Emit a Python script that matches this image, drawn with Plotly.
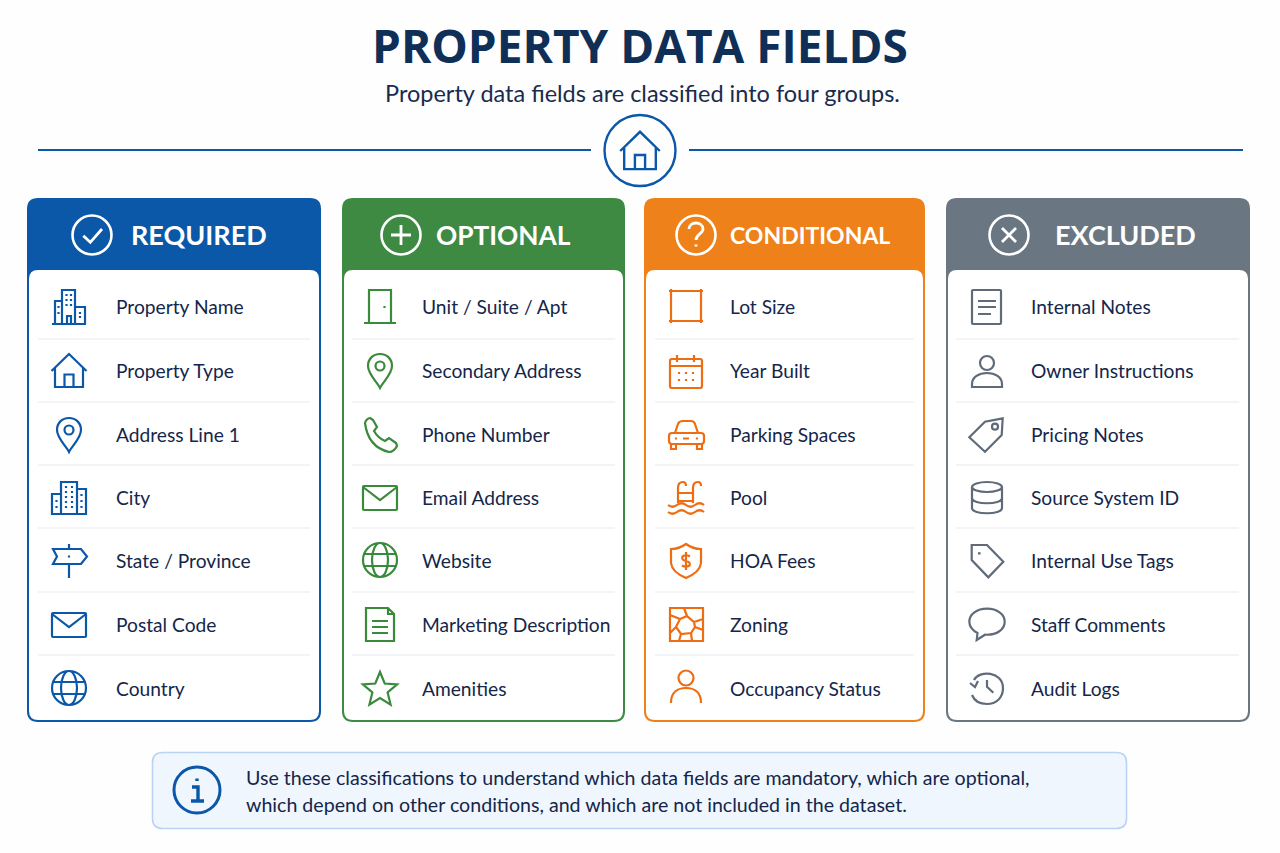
import math
import re
import plotly.graph_objects as go

# ---------- content ----------
TITLE = "PROPERTY DATA FIELDS"
SUBTITLE = "Property data fields are classified into four groups."
GROUPS = ["REQUIRED", "OPTIONAL", "CONDITIONAL", "EXCLUDED"]
REQUIRED = ["Property Name", "Property Type", "Address Line 1", "City", "State / Province", "Postal Code", "Country"]
OPTIONAL = ["Unit / Suite / Apt", "Secondary Address", "Phone Number", "Email Address", "Website", "Marketing Description", "Amenities"]
CONDITIONAL = ["Lot Size", "Year Built", "Parking Spaces", "Pool", "HOA Fees", "Zoning", "Occupancy Status"]
EXCLUDED = ["Internal Notes", "Owner Instructions", "Pricing Notes", "Source System ID", "Internal Use Tags", "Staff Comments", "Audit Logs"]
FIELDS = [REQUIRED, OPTIONAL, CONDITIONAL, EXCLUDED]
NOTE_LINES = ["Use these classifications to understand which data fields are mandatory, which are optional,",
              "which depend on other conditions, and which are not included in the dataset."]

REQUIRED_ICONS = ["buildings", "house", "pin", "city", "sign", "mail", "globe"]
OPTIONAL_ICONS = ["door", "pin", "phone", "mail", "globe", "doc", "star"]
CONDITIONAL_ICONS = ["lot", "calendar", "car", "pool", "shield", "zoning", "person"]
EXCLUDED_ICONS = ["notes", "owner", "pricetag", "database", "tag", "bubble", "history"]
ICONS = [REQUIRED_ICONS, OPTIONAL_ICONS, CONDITIONAL_ICONS, EXCLUDED_ICONS]
HEAD_ICONS = ["check", "plus", "question", "cross"]

# ---------- layout and styles ----------
W, H = 1280, 853
BG = "#FEFEFE"
BLUE = "#0B57A8"
HEAD_COLORS = [BLUE, "#3F8A42", "#EE8119", "#6B7683"]
ICON_COLORS = [BLUE, "#3A8A3C", "#EE6C12", "#5F6B78"]
PANEL_X0 = [27, 342, 644, 946]
PANEL_X1 = [321, 625, 925, 1250]
SEP_X0 = [38, 352, 655, 956]
SEP_X1 = [310, 615, 914, 1239]
ICON_X = [69, 380, 686, 987]
TEXT_X = [113.7, 419.7, 727.7, 1028.7]
HEAD_ICON_X = [92, 401, 696, 1009]
HEAD_TEXT_X = [199, 503, 810, 1125]
HEAD_SIZES = [27, 26.3, 23, 27]
ROW_Y = [306, 370, 434, 497, 560, 624, 688]
ICON_Y = [307, 371, 435, 498, 561, 625, 689]
SEP_Y = [339, 402, 465, 528, 592, 655]
PANEL_TOP, BODY_TOP, PANEL_BOTTOM = 198, 270, 722
FONT = "Lato"
TITLE_FONT = "Open Sans"
INK = "#14264A"


def ell(cx, cy, rx, ry=None):
    ry = rx if ry is None else ry
    k = 0.5523
    return (f"M{cx-rx},{cy} C{cx-rx},{cy-k*ry} {cx-k*rx},{cy-ry} {cx},{cy-ry} "
            f"C{cx+k*rx},{cy-ry} {cx+rx},{cy-k*ry} {cx+rx},{cy} "
            f"C{cx+rx},{cy+k*ry} {cx+k*rx},{cy+ry} {cx},{cy+ry} "
            f"C{cx-k*rx},{cy+ry} {cx-rx},{cy+k*ry} {cx-rx},{cy} Z ")


def rrect(x0, y0, x1, y1, r):
    return (f"M{x0+r},{y0} L{x1-r},{y0} Q{x1},{y0} {x1},{y0+r} L{x1},{y1-r} Q{x1},{y1} {x1-r},{y1} "
            f"L{x0+r},{y1} Q{x0},{y1} {x0},{y1-r} L{x0},{y0+r} Q{x0},{y0} {x0+r},{y0} Z ")


def dots(pts, d=1.1):
    return " ".join(f"M{x-d},{y} L{x+d},{y}" for x, y in pts) + " "


def star():
    pts = []
    for i in range(10):
        r = 18 if i % 2 == 0 else 8
        a = -math.pi / 2 + i * math.pi / 5
        pts.append(f"{r*math.cos(a):.2f},{r*math.sin(a)+1:.2f}")
    return "M" + " L".join(pts) + " Z "


def waves(y):
    s = f"M-18,{y} "
    for i in range(4):
        x = -18 + 9 * i
        bump = 3.5 if i % 2 == 0 else -3.5
        s += f"Q{x+4.5},{y+bump} {x+9},{y} "
    return s


SHAPES = {
    "buildings": "M-17,17 L17,17 M-7,17 L-7,-17 L6,-17 L6,17 M-7,-6 L-14,-6 L-14,17 M6,0 L16,0 L16,17 M-2,17 L-2,9 L2,9 L2,17 "
                 + dots([(-2.5, -12), (2, -12), (-2.5, -7), (2, -7), (-2.5, -2), (2, -2), (-10.5, 0), (-10.5, 6), (11, 6), (11, 10)]),
    "city": "M-8,16 L-8,-16 L8,-16 L8,16 Z M-8,-4 L-17,-4 L-17,16 L-8,16 M8,-9 L17,-9 L17,16 L8,16 "
            + dots([(x, y) for x in (-3, 3) for y in (-11, -6, -1, 4, 9)] + [(-12.5, 3), (-12.5, 9), (12.5, -3), (12.5, 3), (12.5, 9)]),
    "house": "M-17.5,0 L0,-17 L17.5,0 M-14,-3 L-14,16 L14,16 L14,-3 M-4.5,16 L-4.5,3.5 L4.5,3.5 L4.5,16",
    "pin": "M0,17 C-3,11 -12,3 -12,-5 C-12,-12 -7,-17 0,-17 C7,-17 12,-12 12,-5 C12,3 3,11 0,17 Z " + ell(0, -5, 4.5),
    "sign": "M0,-17 L0,-12 M0,3 L0,17 M-16,-12 L12,-12 L18,-4.5 L12,3 L-16,3 L-12,-4.5 Z " + dots([(0, -4.5)]),
    "mail": rrect(-17, -12, 17, 12, 1) + "M-17,-11 L0,2 L17,-11",
    "globe": ell(0, -1, 17) + ell(0, -1, 8, 17) + "M-15.5,-7 L15.5,-7 M-15.5,5 L15.5,5",
    "door": "M-16,16 L16,16 M-11,16 L-11,-17 L11,-17 L11,16 " + dots([(4.5, 0)]),
    "phone": "M-15,-12 Q-14,-16 -10,-17 L-7,-15 L-3,-8 L-6,-4 Q-2,3 5,6 L9,3 L16,8 L17,11 Q14,17 9,17 Q-12,12 -15,-12 Z",
    "doc": "M-14,-17 L8,-17 L14,-11 L14,16 L-14,16 Z M8,-17 L8,-11 L14,-11 M-8,-4 L8,-4 M-8,2 L8,2 M-8,8 L8,8",
    "star": star(),
    "lot": "M-15,-18 L-15,16 M15,-18 L15,16 M-17,-16 L17,-16 M-17,14 L17,14",
    "calendar": rrect(-16, -12, 16, 17, 2) + "M-16,-5 L16,-5 M-9,-16 L-9,-9 M8,-16 L8,-9 "
                + dots([(x, y) for x in (-7, 0, 7) for y in (2, 9)]),
    "car": "M-11,-2 L-8,-11 Q-7,-14 -3,-14 L5,-14 Q8,-14 9,-11 L12,-2 " + rrect(-17, -2, 18, 9, 3)
           + "M-15,9 L-15,14 L-10,14 L-10,9 M11,9 L11,14 L16,14 L16,9 M-3,3.5 L3,3.5 " + dots([(-10, 3.5), (11, 3.5)]),
    "pool": "M-8,5 L-8,-10 Q-8,-16 -3,-16 Q0,-16 0,-12 M7,5 L7,-10 Q7,-16 12,-16 Q15,-16 15,-12 M-8,-5 L7,-5 M-8,3 L7,3 "
            + waves(7) + waves(14),
    "shield": "M0,-17 Q-7,-12 -15,-12 L-15,2 Q-14,11 0,17 Q14,11 15,2 L15,-12 Q7,-12 0,-17 Z "
              "M4,-4.5 Q0,-7 -3.5,-4.5 Q-5,-1 0,0 Q5,1 3.5,4.5 Q0,7 -4,4.5 M0,-9 L0,9",
    "zoning": "M-16,-17 L17,-17 L17,16 L-16,16 Z M-2,-17 L1,-9 L8,-3 L17,-6 M1,-9 L-6,-6 L-10,2 L-5,9 L5,8 L9,2 L8,-3 "
              "M-6,-6 L-16,-10 M-10,2 L-16,8 M-5,9 L-7,16 M5,8 L6,16 M9,2 L17,5",
    "person": ell(0, -11, 7.5) + "M-15,14 C-15,3 -8,-1 0,-1 C8,-1 15,3 15,14",
    "notes": rrect(-15, -17, 14, 17, 1) + "M-9,-6 L9,-6 M-9,0 L9,0 M-9,7 L4,7",
    "owner": ell(0, -8, 7) + "M-15,16 L-15,13 C-15,6 -8,2 0,2 C8,2 15,6 15,13 L15,16 Z",
    "pricetag": "M-17.7,2.3 L-2,-13.3 L15.7,-16.7 L14.7,0 L-2,16.7 Z " + ell(8, -8.3, 3),
    "database": ell(0, -11, 15, 5) + "M-15,-11 L-15,10 C-15,17 15,17 15,10 L15,-11 M-15,0 C-15,7 15,7 15,0",
    "tag": "M-15.3,-16 L0,-16 L16.3,0.7 L1.3,16.3 L-15.3,-1 Z " + dots([(-7.7, -7.7)], 1.3),
    "bubble": "M-2,9.7 C10,10.5 17.7,4 17.7,-3.3 C17.7,-11 10,-16.3 0,-16.3 C-10,-16.3 -17.7,-11 -17.7,-3.3 "
              "C-17.7,1.5 -14,6 -9.5,8 L-10.3,15 Z",
    "history": "M-13,-9 C-8,-19 16,-18 16,-1 C16,9 9,15 0,15 C-8,15 -13,11 -15,6 M-17,-6 L-12,-2 L-9,-8 M0,-9 L0,-2.3 L6.3,3.7",
    "check": "M-8.7,0.7 L-1.7,7.3 L10,-6",
    "plus": "M-10,0 L10,0 M0,-10 L0,10",
    "question": "M-7,-6 C-7,-14 7,-14 7,-6 C7,-1 0,-1 0,5 M0,9.5 L0,11.5",
    "cross": "M-7,-7 L7,7 M-7,7 L7,-7",
    "info": "M0,-11.5 L0,-9 M-5,-3 L1,-3 L1,11 M-6,11 L7,11",
}


def place(path, cx, cy, s=1.0):
    def repl(m):
        return f"{float(m.group(1))*s+cx:.2f},{float(m.group(2))*s+cy:.2f}"
    return re.sub(r"(-?\d+\.?\d*(?:e-?\d+)?),(-?\d+\.?\d*(?:e-?\d+)?)", repl, path)


shapes = []
annos = []


def add_path(path, line=None, width=0, fill="rgba(0,0,0,0)"):
    shapes.append(dict(type="path", xref="x", yref="y", path=path, fillcolor=fill,
                       line=dict(color=line or "rgba(0,0,0,0)", width=width), layer="above"))


def add_line(x0, y0, x1, y1, color, width):
    shapes.append(dict(type="line", xref="x", yref="y", x0=x0, y0=y0, x1=x1, y1=y1,
                       line=dict(color=color, width=width), layer="above"))


def add_text(text, x, y, size, color, family=FONT, anchor="left", bold=False):
    annos.append(dict(text=f"<b>{text}</b>" if bold else text, x=x, y=y, xref="x", yref="y",
                      xanchor=anchor, yanchor="middle", showarrow=False,
                      font=dict(family=family, size=size, color=color)))


# heading
add_text(TITLE, 640, 45, 46, "#0F2F57", TITLE_FONT, "center", True)
add_text(SUBTITLE, 642, 93, 23.5, "#1A2B4C", FONT, "center")
add_line(38, 150, 591, 150, BLUE, 2.2)
add_line(689, 150, 1243, 150, BLUE, 2.2)
add_path(place(ell(0, 0, 35.5), 640, 150.5), BLUE, 2.4)
add_path(place(SHAPES["house"], 640, 151, 1.13), BLUE, 2.4)

# panels
for g, name in enumerate(GROUPS):
    x0, x1 = PANEL_X0[g], PANEL_X1[g]
    add_path(rrect(x0, PANEL_TOP, x1, PANEL_BOTTOM, 11), None, 0, HEAD_COLORS[g])
    add_path(rrect(x0 + 2, BODY_TOP, x1 - 2, PANEL_BOTTOM - 2, 9), None, 0, "#FFFFFF")
    add_path(place(ell(0, 0, 19.5), HEAD_ICON_X[g], 235), "#FFFFFF", 2.6)
    add_path(place(SHAPES[HEAD_ICONS[g]], HEAD_ICON_X[g], 235), "#FFFFFF", 2.8)
    add_text(name, HEAD_TEXT_X[g], 234.5, HEAD_SIZES[g], "#FFFFFF", FONT, "center", True)
    for y in SEP_Y:
        add_line(SEP_X0[g], y, SEP_X1[g], y, "#E6EAF0", 1.2)
    for r, y in enumerate(ROW_Y):
        add_path(place(SHAPES[ICONS[g][r]], ICON_X[g], ICON_Y[r]), ICON_COLORS[g], 2.2)
        add_text(FIELDS[g][r], TEXT_X[g], y, 19.2, INK)

# note box
add_path(rrect(152.5, 752.5, 1126.5, 828.5, 10), "#BAD3F3", 1.6, "#F0F6FE")
add_path(place(ell(0, 0, 23), 197, 790), BLUE, 3)
add_path(place(SHAPES["info"], 197, 790), BLUE, 3.4)
add_text(NOTE_LINES[0], 243.7, 777, 19.6, INK)
add_text(NOTE_LINES[1], 243.7, 804, 19.6, INK)

fig = go.Figure()
fig.update_layout(
    width=W, height=H, margin=dict(l=0, r=0, t=0, b=0),
    paper_bgcolor=BG, plot_bgcolor=BG,
    xaxis=dict(range=[0, W], visible=False, fixedrange=True),
    yaxis=dict(range=[H, 0], visible=False, fixedrange=True),
    shapes=shapes, annotations=annos, showlegend=False,
)
fig.write_html("out.html", config=dict(displayModeBar=False),
               post_script="document.body.style.margin='0';document.body.style.background='#FEFEFE';")
